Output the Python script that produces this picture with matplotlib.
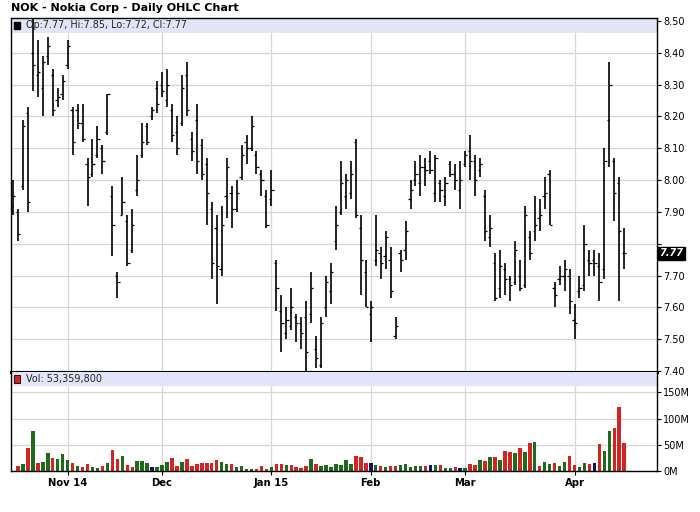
import numpy as np
import matplotlib
matplotlib.use('Agg')
import matplotlib.pyplot as plt
from matplotlib.patches import Rectangle
import matplotlib.transforms as mtransforms

# daily OHLC for NOK, Oct 17 2014 .. Apr 16 2015 (one entry per trading day)
opens = [7.92, 7.90, 7.98, 8.21, 8.40, 8.33, 8.29, 8.39, 8.33, 8.25,
         8.27, 8.36, 8.22, 8.22, 8.18, 8.05, 8.02, 8.08, 8.10, 8.15,
         7.95, 7.70, 7.89, 7.87, 7.78, 7.97, 8.08, 8.17, 8.20, 8.29,
         8.30, 8.25, 8.22, 8.15, 8.18, 8.33, 8.13, 8.19, 8.11, 8.05,
         7.91, 7.85, 7.72, 7.95, 7.96, 7.91, 8.01, 8.12, 8.10, 8.08,
         8.02, 7.95, 7.94, 7.74, 7.59, 7.52, 7.54, 7.57, 7.55, 7.57,
         7.58, 7.47, 7.42, 7.60, 7.65, 7.81, 7.90, 7.95, 7.96, 8.12,
         7.85, 7.71, 7.58, 7.75, 7.77, 7.76, 7.75, 7.51, 7.77, 7.78,
         7.94, 8.00, 7.99, 8.04, 8.06, 7.96, 7.99, 7.95, 8.05, 8.02,
         7.97, 8.05, 8.09, 8.06, 8.03, 7.95, 7.82, 7.74, 7.66, 7.72,
         7.69, 7.68, 7.70, 7.67, 7.82, 7.84, 7.88, 7.95, 8.02, 7.66,
         7.69, 7.70, 7.70, 7.56, 7.65, 7.67, 7.75, 7.75, 7.73, 7.72,
         8.19, 8.06, 7.99, 7.77]
highs = [8.00, 7.91, 8.19, 8.23, 8.52, 8.44, 8.39, 8.45, 8.35, 8.29,
         8.33, 8.44, 8.23, 8.24, 8.24, 8.07, 8.13, 8.17, 8.11, 8.27,
         7.98, 7.71, 8.01, 7.89, 7.91, 8.08, 8.18, 8.18, 8.23, 8.31,
         8.34, 8.35, 8.24, 8.20, 8.33, 8.37, 8.15, 8.24, 8.13, 8.07,
         7.93, 7.89, 7.92, 8.07, 7.98, 8.00, 8.11, 8.14, 8.20, 8.09,
         8.03, 7.97, 8.03, 7.75, 7.64, 7.60, 7.66, 7.58, 7.57, 7.62,
         7.71, 7.51, 7.57, 7.70, 7.74, 7.92, 8.06, 8.02, 8.06, 8.13,
         7.89, 7.75, 7.62, 7.89, 7.79, 7.84, 7.79, 7.57, 7.78, 7.87,
         8.00, 8.06, 8.08, 8.07, 8.09, 8.08, 8.00, 8.01, 8.06, 8.05,
         8.06, 8.09, 8.14, 8.08, 8.07, 7.97, 7.89, 7.77, 7.78, 7.74,
         7.70, 7.81, 7.75, 7.92, 7.84, 7.95, 7.94, 8.01, 8.03, 7.68,
         7.73, 7.75, 7.72, 7.61, 7.70, 7.86, 7.78, 7.78, 7.77, 8.10,
         8.37, 8.07, 8.01, 7.85]
lows = [7.89, 7.81, 7.97, 7.90, 8.28, 8.26, 8.20, 8.36, 8.20, 8.23,
        8.25, 8.35, 8.08, 8.16, 8.12, 7.92, 8.01, 8.07, 8.02, 8.14,
        7.76, 7.63, 7.89, 7.73, 7.77, 7.95, 8.07, 8.11, 8.19, 8.21,
        8.26, 8.23, 8.12, 8.08, 8.17, 8.20, 8.06, 8.02, 8.00, 7.86,
        7.69, 7.61, 7.70, 7.88, 7.85, 7.90, 8.00, 8.05, 8.09, 8.02,
        7.95, 7.85, 7.92, 7.59, 7.46, 7.50, 7.53, 7.49, 7.47, 7.40,
        7.55, 7.41, 7.41, 7.57, 7.61, 7.78, 7.89, 7.91, 7.94, 7.88,
        7.64, 7.60, 7.49, 7.73, 7.69, 7.72, 7.63, 7.50, 7.71, 7.75,
        7.91, 7.98, 7.95, 7.98, 8.02, 7.93, 7.93, 7.92, 8.01, 7.97,
        7.91, 8.04, 8.00, 7.95, 8.01, 7.81, 7.79, 7.62, 7.63, 7.64,
        7.62, 7.67, 7.65, 7.66, 7.75, 7.81, 7.84, 7.91, 7.86, 7.60,
        7.67, 7.65, 7.58, 7.50, 7.63, 7.65, 7.70, 7.70, 7.62, 7.69,
        8.04, 7.87, 7.62, 7.72]
closes = [7.95, 7.83, 8.17, 7.93, 8.36, 8.34, 8.37, 8.42, 8.22, 8.26,
          8.31, 8.42, 8.12, 8.18, 8.13, 8.01, 8.05, 8.13, 8.06, 8.27,
          7.86, 7.68, 7.93, 7.74, 7.86, 8.00, 8.12, 8.12, 8.22, 8.24,
          8.28, 8.30, 8.14, 8.10, 8.29, 8.22, 8.09, 8.06, 8.02, 7.96,
          7.74, 7.73, 7.86, 8.04, 7.91, 7.96, 8.08, 8.10, 8.17, 8.04,
          8.00, 7.86, 7.97, 7.66, 7.55, 7.56, 7.60, 7.55, 7.52, 7.46,
          7.66, 7.44, 7.55, 7.68, 7.71, 7.86, 7.99, 8.00, 8.02, 7.89,
          7.75, 7.60, 7.60, 7.78, 7.74, 7.82, 7.65, 7.54, 7.75, 7.84,
          7.97, 8.02, 8.04, 8.03, 8.03, 8.07, 7.97, 7.99, 8.02, 8.00,
          8.00, 8.08, 8.06, 8.00, 8.05, 7.84, 7.85, 7.63, 7.73, 7.69,
          7.67, 7.78, 7.66, 7.89, 7.77, 7.86, 7.89, 7.96, 7.86, 7.64,
          7.70, 7.72, 7.62, 7.55, 7.66, 7.80, 7.74, 7.74, 7.68, 8.06,
          8.30, 7.96, 7.84, 7.77]
# volume in millions of shares (first day's bar hidden under the frame)
volumes = [0, 9.6, 13.5, 44.2, 76.9, 16.0, 17.3, 34.6, 25.0, 23.1,
           32.7, 21.2, 16.0, 9.6, 7.7, 13.5, 7.7, 5.8, 9.6, 15.4,
           40.4, 23.1, 28.8, 11.5, 7.7, 19.2, 19.2, 15.4, 7.7, 7.7,
           11.5, 17.3, 25.0, 9.6, 17.3, 23.1, 9.6, 13.5, 15.4, 15.4,
           15.4, 21.2, 17.3, 13.5, 13.5, 7.7, 9.6, 3.8, 3.8, 3.8,
           9.6, 3.8, 7.7, 13.5, 13.5, 11.5, 11.5, 7.7, 5.8, 9.6,
           23.1, 13.5, 9.6, 11.5, 7.7, 13.5, 11.5, 21.2, 13.5, 28.8,
           26.9, 15.4, 15.4, 11.5, 9.6, 7.7, 9.6, 9.6, 11.5, 13.5,
           7.7, 9.6, 9.6, 9.6, 11.5, 11.5, 11.5, 5.8, 5.8, 7.7,
           5.8, 5.8, 13.5, 11.5, 21.2, 19.2, 26.9, 26.9, 21.2, 38.5,
           36.5, 34.6, 44.2, 36.5, 53.8, 55.8, 9.6, 17.3, 13.5, 15.4,
           9.6, 17.3, 28.8, 11.5, 7.7, 15.4, 13.5, 15.4, 51.9, 38.5,
           76.9, 82.7, 123.0, 53.36]
# close vs previous close: u = up, d = down, n = unchanged (10 days per row)
direction = list(
    'udududuudu'
    'uududduudu'
    'ddudduuunu'
    'uudduddddd'
    'dduuduuuud'
    'dduddudddd'
    'uduuuuuuud'
    'ddnududduu'
    'uuudnuduud'
    'nuddudud' 'ud'
    'dudududuud'
    'uudduudndu'
    'uddd'
)

month_labels = ['Nov 14', 'Dec', 'Jan 15', 'Feb', 'Mar', 'Apr']
month_start = [11, 30, 52, 72, 91, 113]

price_ticks = [8.5, 8.4, 8.3, 8.2, 8.1, 8.0, 7.9, 7.8, 7.7, 7.6, 7.5, 7.4]
vol_ticks = [0, 50, 100, 150]

last_vol = 53359800

up_c = '#1e6b1e'
dn_c = '#d42323'
nc_c = '#141466'
grid_c = '#d6d6d6'
band_c = '#e4e4f9'

n = len(closes)
x = np.arange(n)

fig = plt.figure(figsize=(7, 5.12), dpi=100)
W, H = 700.0, 512.0
left, right = 10.5, 656.5
ax_p = fig.add_axes([left / W, 1 - 372 / H, (right - left) / W, 354 / H])
ax_v = fig.add_axes([left / W, 1 - 471 / H, (right - left) / W, 99 / H])

for ax in (ax_p, ax_v):
    ax.set_xlim(-0.5, 129.5)
    ax.set_xticks(month_start)
    ax.grid(True, color=grid_c, linewidth=0.9, zorder=0)
    ax.set_axisbelow(True)
    ax.yaxis.tick_right()
    ax.tick_params(axis='y', which='both', left=False, right=True, length=3,
                   width=0.8, pad=2, labelsize=7, colors='black')
    for s in ax.spines.values():
        s.set_linewidth(1.0)

# price panel
ax_p.set_ylim(7.397, 8.509)
ax_p.set_yticks(price_ticks)
ax_p.set_yticklabels(['' if abs(t - 7.8) < 1e-6 else '%.2f' % t for t in price_ticks])
ax_p.tick_params(axis='x', bottom=False, labelbottom=False)
ax_p.spines['bottom'].set_linewidth(2.2)

ax_p.add_patch(Rectangle((0, 0.958), 1, 0.042, transform=ax_p.transAxes,
                         facecolor=band_c, edgecolor='none', zorder=1))
ax_p.vlines(x, lows, highs, color='black', linewidth=1.2, zorder=3)
ax_p.hlines(opens, x - 0.45, x, color='black', linewidth=0.9, zorder=3)
ax_p.hlines(closes, x, x + 0.45, color='black', linewidth=0.9, zorder=3)

ax_p.add_patch(Rectangle((0.0055, 0.968), 0.0095, 0.022, transform=ax_p.transAxes,
                         facecolor='black', edgecolor='black', zorder=4))
ax_p.text(0.024, 0.979, 'Op:%.2f, Hi:%.2f, Lo:%.2f, Cl:%.2f'
          % (opens[-1], highs[-1], lows[-1], closes[-1]),
          transform=ax_p.transAxes, va='center', ha='left', fontsize=6.9,
          color='#222222', zorder=5)

tr = mtransforms.blended_transform_factory(ax_p.transAxes, ax_p.transData)
ax_p.text(1.004, closes[-1], '%.2f' % closes[-1], transform=tr, va='center', ha='left',
          fontsize=7, color='white', fontstyle='italic', fontweight='bold',
          bbox=dict(boxstyle='square,pad=0.15', facecolor='black', edgecolor='black'),
          zorder=6, clip_on=False)

# volume panel
cmap = {'u': up_c, 'd': dn_c, 'n': nc_c}
ax_v.bar(x, volumes, width=0.7, color=[cmap[d] for d in direction], zorder=2)
ax_v.set_ylim(0, 189)
ax_v.set_yticks(vol_ticks)
ax_v.set_yticklabels(['%dM' % t for t in vol_ticks])
ax_v.set_xticklabels(month_labels, fontweight='bold', fontsize=7.2)
ax_v.tick_params(axis='x', length=3, width=0.8, pad=2)
ax_v.spines['top'].set_visible(False)

ax_v.add_patch(Rectangle((0, 0.855), 1, 0.145, transform=ax_v.transAxes,
                         facecolor=band_c, edgecolor='none', zorder=1))
ax_v.add_patch(Rectangle((0.0055, 0.89), 0.0095, 0.08, transform=ax_v.transAxes,
                         facecolor=dn_c, edgecolor='black', linewidth=0.6, zorder=4))
ax_v.text(0.024, 0.928, 'Vol: {:,}'.format(last_vol), transform=ax_v.transAxes,
          va='center', ha='left', fontsize=6.9, color='#222222', zorder=5)

fig.text(11 / W, 1 - 8 / H, 'NOK - Nokia Corp - Daily OHLC Chart', fontsize=8.0,
         fontweight='bold', va='center', ha='left')

fig.savefig('out.png', dpi=100, facecolor='white')
